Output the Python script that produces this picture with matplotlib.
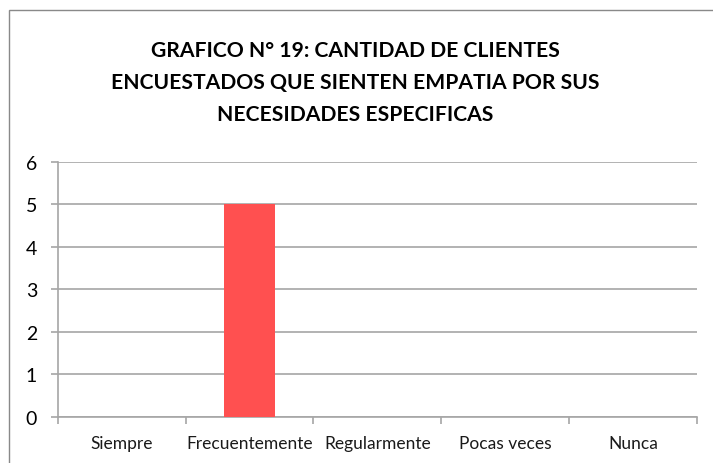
import matplotlib.pyplot as plt
from matplotlib.patches import Rectangle
from matplotlib.ticker import FixedLocator

categories = ["Siempre", "Frecuentemente", "Regularmente", "Pocas veces", "Nunca"]
clientes = [0, 5, 0, 0, 0]
y_ticks = [0, 1, 2, 3, 4, 5, 6]
titulo = ("GRAFICO N° 19: CANTIDAD DE CLIENTES\n"
          "ENCUESTADOS QUE SIENTEN EMPATIA POR SUS\n"
          "NECESIDADES ESPECIFICAS")

W, H = 713, 464
fig = plt.figure(figsize=(W / 100, H / 100), dpi=100)
fig.patch.set_facecolor("white")

# chart frame (right/bottom edges fall outside the canvas)
fig.patches.append(Rectangle((9 / W, -0.1), 1.2, 1 - 11 / H + 0.1, transform=fig.transFigure,
                             fill=False, edgecolor="#898989", linewidth=1.0))

grey = "#a6a6a6"
ax = fig.add_axes([58 / W, 46.3 / H, (696.7 - 58) / W, 255 / H])
x = range(len(categories))
ax.bar(x, clientes, width=0.4, color="#ff5050", zorder=3)

ax.set_xlim(-0.5, len(categories) - 0.5)
ax.set_ylim(0, 6)
ax.set_yticks(y_ticks)
ax.yaxis.grid(True, color=grey, linewidth=1.2, zorder=0)

ax.set_xticks(list(x))
ax.set_xticklabels(categories, fontfamily="Lato", fontsize=12.5, color="#1a1a1a")
ax.xaxis.set_minor_locator(FixedLocator([i - 0.5 for i in range(len(categories) + 1)]))
ax.tick_params(axis="x", which="major", length=0, pad=13)
ax.tick_params(axis="x", which="minor", length=5, color=grey, width=1.2)
ax.tick_params(axis="y", length=5, color=grey, width=1.2, pad=10, labelsize=14)
for lbl in ax.get_yticklabels():
    lbl.set_fontfamily("Lato")

for side in ["top", "right"]:
    ax.spines[side].set_visible(False)
for side in ["left", "bottom"]:
    ax.spines[side].set_color(grey)
    ax.spines[side].set_linewidth(1.2)

fig.text(355 / W, 1 - 83 / H, titulo, ha="center", va="center", fontfamily="Lato",
         fontweight="bold", fontsize=15.2, linespacing=1.72, color="#000000")

fig.savefig("out.png", dpi=100, facecolor="white")
